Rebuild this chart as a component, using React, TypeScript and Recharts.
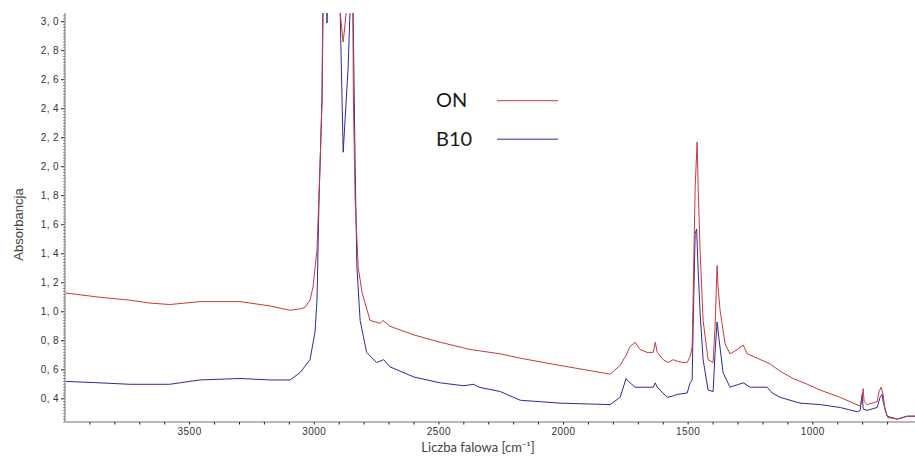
import React from 'react';
import { LineChart, Line, XAxis, YAxis, Legend } from 'recharts';

// ON series (red)
const onWavenumbers = [
  4000, 3860, 3740, 3659, 3580, 3458, 3298, 3177, 3097, 3057,
  3037, 3017, 3005, 2989, 2977, 2969, 2965, 2900, 2896, 2884,
  2872, 2860, 2846, 2843, 2836, 2824, 2808, 2776, 2736, 2724,
  2696, 2600, 2495, 2375, 2254, 2174, 2014, 1813, 1773, 1749,
  1733, 1713, 1693, 1665, 1640, 1632, 1624, 1600, 1580, 1560,
  1545, 1520, 1504, 1492, 1484, 1480, 1472, 1464, 1460, 1452,
  1440, 1420, 1400, 1392, 1384, 1380, 1372, 1352, 1332, 1303,
  1279, 1263, 1223, 1171, 1131, 1079, 1051, 1022, 970, 890,
  838, 810, 802, 798, 794, 782, 742, 734, 726, 718,
  710, 698, 661, 621, 590,
];
const onValues = [
  1.13, 1.10, 1.08, 1.06, 1.05, 1.07, 1.07, 1.04, 1.01, 1.02,
  1.03, 1.08, 1.17, 1.43, 2.0, 2.46, 3.3, 3.3, 3.06, 2.86,
  3.06, 3.3, 3.3, 2.46, 1.77, 1.31, 1.13, 0.94, 0.92, 0.94,
  0.90, 0.84, 0.79, 0.74, 0.71, 0.68, 0.63, 0.57, 0.63, 0.70,
  0.76, 0.79, 0.74, 0.72, 0.72, 0.79, 0.72, 0.67, 0.65, 0.67,
  0.66, 0.65, 0.65, 0.69, 0.76, 1.10, 1.86, 2.17, 1.86, 1.41,
  0.94, 0.67, 0.65, 0.90, 1.32, 1.17, 1.01, 0.78, 0.71, 0.74,
  0.77, 0.71, 0.68, 0.64, 0.59, 0.54, 0.52, 0.50, 0.46, 0.41,
  0.37, 0.35, 0.41, 0.47, 0.38, 0.36, 0.38, 0.45, 0.48, 0.43,
  0.32, 0.27, 0.26, 0.28, 0.28,
];

// B10 series (blue)
const b10Wavenumbers = [
  4000, 3860, 3740, 3580, 3458, 3298, 3177, 3097, 3057, 3017,
  2997, 2989, 2981, 2969, 2963, 2951, 2949, 2946, 2900, 2896,
  2884, 2864, 2852, 2846, 2843, 2836, 2829, 2816, 2790, 2750,
  2722, 2696, 2600, 2495, 2400, 2360, 2340, 2254, 2174, 2014,
  1813, 1773, 1749, 1740, 1733, 1713, 1665, 1640, 1632, 1624,
  1584, 1560, 1544, 1504, 1492, 1484, 1480, 1472, 1466, 1460,
  1452, 1440, 1420, 1400, 1392, 1384, 1376, 1360, 1332, 1279,
  1251, 1183, 1163, 1131, 1051, 970, 890, 822, 810, 802,
  798, 782, 742, 730, 722, 718, 702, 661, 621, 590,
];
const b10Values = [
  0.52, 0.51, 0.50, 0.50, 0.53, 0.54, 0.53, 0.53, 0.58, 0.67,
  0.86, 1.08, 1.77, 2.46, 3.3, 3.3, 2.99, 3.3, 3.3, 3.06,
  2.10, 2.69, 3.3, 3.3, 2.92, 2.0, 1.31, 0.94, 0.72, 0.65,
  0.67, 0.62, 0.55, 0.51, 0.49, 0.50, 0.48, 0.45, 0.39, 0.37,
  0.36, 0.41, 0.54, 0.52, 0.51, 0.48, 0.48, 0.48, 0.51, 0.48,
  0.41, 0.42, 0.43, 0.44, 0.51, 0.53, 0.90, 1.54, 1.57, 1.29,
  0.99, 0.67, 0.46, 0.45, 0.72, 0.93, 0.81, 0.58, 0.48, 0.51,
  0.48, 0.48, 0.44, 0.41, 0.37, 0.36, 0.34, 0.31, 0.32, 0.43,
  0.33, 0.32, 0.34, 0.41, 0.43, 0.38, 0.28, 0.26, 0.28, 0.28,
];

// Legend order and axis ticks
const legendOrder = ['ON', 'B10'];
const xMajorTicks = [1000, 1500, 2000, 2500, 3000, 3500];
const xMinorTicks = [
  700, 800, 900, 1000, 1100, 1200, 1300, 1400, 1500, 1600, 1700, 1800,
  1900, 2000, 2100, 2200, 2300, 2400, 2500, 2600, 2700, 2800, 2900, 3000,
  3100, 3200, 3300, 3400, 3500, 3600, 3700, 3800, 3900,
];
const yMajorTicks = [0.4, 0.6, 0.8, 1.0, 1.2, 1.4, 1.6, 1.8, 2.0, 2.2, 2.4, 2.6, 2.8, 3.0];
const yMajorLabels = ['0, 4', '0, 6', '0, 8', '1, 0', '1, 2', '1, 4', '1, 6', '1, 8', '2, 0', '2, 2', '2, 4', '2, 6', '2, 8', '3, 0'];
const yMinorTicks = Array.from({ length: 141 }, (_, i) => Math.round((0.24 + i * 0.02) * 100) / 100);

const onData = onWavenumbers.map((w, i) => ({ w, v: onValues[i] }));
const b10Data = b10Wavenumbers.map((w, i) => ({ w, v: b10Values[i] }));

const RED = '#c9383a';
const BLUE = '#2b2b98';
const TICK_FONT = '"Liberation Sans", Arial, sans-serif';

const YTick = (props: any) => {
  const { x, y, payload } = props;
  const v = payload.value;
  const idx = yMajorTicks.findIndex((m) => Math.abs(m - v) < 1e-6);
  const major = idx >= 0;
  return (
    <g>
      <line x1={x - (major ? 4 : 1.5)} x2={x - 0.5} y1={y} y2={y} stroke="#222" strokeWidth={1} />
      {major && (
        <text x={x - 6} y={y} dy={3.5} textAnchor="end" fontSize={10} letterSpacing={0.4} fill="#333" fontFamily={TICK_FONT}>
          {yMajorLabels[idx]}
        </text>
      )}
    </g>
  );
};

const XTick = (props: any) => {
  const { x, y, payload } = props;
  const v = payload.value;
  const major = xMajorTicks.includes(v);
  return (
    <g>
      <line x1={x} x2={x} y1={y} y2={y + 2.5} stroke="#222" strokeWidth={1} />
      {major && (
        <text x={x} y={y + 13} textAnchor="middle" fontSize={10} letterSpacing={0.5} fill="#333" fontFamily={TICK_FONT}>
          {String(v)}
        </text>
      )}
    </g>
  );
};

const YLabel = (props: any) => {
  const vb = props.viewBox || { x: 0, y: 13, width: 65, height: 409 };
  const cx = vb.x + 18;
  const cy = vb.y + vb.height / 2 + 7;
  return (
    <text x={cx} y={cy} transform={`rotate(-90, ${cx}, ${cy})`} textAnchor="middle" dominantBaseline="central" fontSize={13} fill="#444" fontFamily={TICK_FONT}>
      Absorbancja
    </text>
  );
};

const XLabel = (props: any) => {
  const vb = props.viewBox || { x: 65, y: 422, width: 850, height: 38 };
  const cx = vb.x + vb.width / 2 - 12;
  const cy = vb.y + 30;
  return (
    <text x={cx} y={cy} textAnchor="middle" fontSize={13} fill="#444" fontFamily="Lato, sans-serif">
      Liczba falowa [cm⁻¹]
    </text>
  );
};

const LegendContent = (props: any) => {
  const items = [...(props.payload || [])].sort(
    (a: any, b: any) => legendOrder.indexOf(a.value) - legendOrder.indexOf(b.value)
  );
  return (
    <svg width={130} height={75} style={{ display: 'block', overflow: 'visible' }}>
      {items.map((it: any, i: number) => (
        <g key={i}>
          <text x={0} y={26.7 + i * 39.3} fontSize={20} fill="#1a1a1a" fontFamily="Lato, sans-serif">
            {it.value}
          </text>
          <line x1={61} x2={122} y1={20.7 + i * 38.5} y2={20.7 + i * 38.5} stroke={it.color} strokeWidth={1} />
        </g>
      ))}
    </svg>
  );
};

export default function App() {
  return (
    <div style={{ position: 'absolute', left: 0, top: 0, width: 915, height: 460, background: '#fff' }}>
      <LineChart width={915} height={460} margin={{ top: 13, right: 0, bottom: 0, left: 0 }}>
        <XAxis
          type="number"
          dataKey="w"
          domain={[590, 4000]}
          reversed
          allowDataOverflow
          ticks={xMinorTicks}
          interval={0}
          tick={<XTick />}
          tickLine={false}
          tickSize={0}
          tickMargin={0}
          height={38}
          axisLine={{ stroke: '#b8b8b8', strokeWidth: 2 }}
          label={<XLabel />}
        />
        <YAxis
          type="number"
          domain={[0.24, 3.06]}
          allowDataOverflow
          ticks={yMinorTicks}
          interval={0}
          tick={<YTick />}
          tickLine={false}
          tickSize={0}
          tickMargin={0}
          width={65}
          axisLine={{ stroke: '#b8b8b8', strokeWidth: 2 }}
          label={<YLabel />}
        />
        <Legend
          layout="horizontal"
          verticalAlign="middle"
          align="center"
          content={<LegendContent />}
          wrapperStyle={{ left: 436, top: 80, width: 130, height: 75 }}
        />
        <Line
          data={b10Data}
          dataKey="v"
          name="B10"
          stroke={BLUE}
          strokeWidth={1}
          dot={false}
          activeDot={false}
          type="linear"
          isAnimationActive={false}
        />
        <Line
          data={onData}
          dataKey="v"
          name="ON"
          stroke={RED}
          strokeWidth={1}
          dot={false}
          activeDot={false}
          type="linear"
          isAnimationActive={false}
        />
      </LineChart>
    </div>
  );
}
